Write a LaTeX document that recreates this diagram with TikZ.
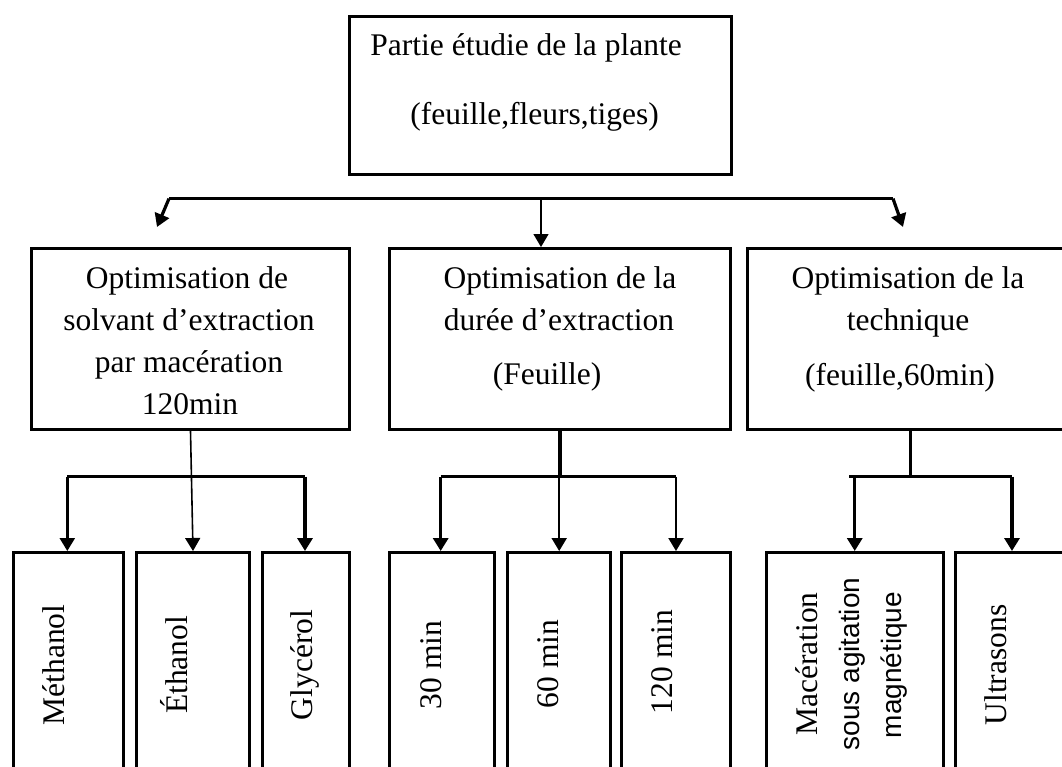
\documentclass[tikz,border=0pt]{standalone}
\usepackage{fontspec}
\setmainfont{Liberation Serif}
\newfontfamily\sansf{Liberation Sans}
\usetikzlibrary{arrows.meta}
\begin{document}
\begin{tikzpicture}[x=0.5pt,y=-0.5pt,
  box/.style={draw,line width=1.5pt,inner sep=0pt,anchor=north west},
  txt/.style={inner sep=0pt,font=\fontsize{15.75pt}{18pt}\selectfont,anchor=base},
  rtxt/.style={txt,rotate=90},
  stxt/.style={inner sep=0pt,font=\sansf\fontsize{14pt}{16pt}\selectfont,anchor=base,rotate=90},
  arr/.style={-{Triangle[width=7.5pt,length=6.5pt]}},
  thk/.style={line width=1.6pt},
  med/.style={line width=1pt},
  thn/.style={line width=0.65pt}]
\useasboundingbox (0,0) rectangle (1062,767);
\clip (0,0) rectangle (1062,767);
\fill[white] (0,0) rectangle (1062,767);

% top box
\node[box,minimum width=191pt,minimum height=79pt] (top) at (348,15) {};
\node[txt,anchor=base west] (top1) at (370,55) {Partie étudie de la plante};
\node[txt,anchor=base west] (top2) at (410,124) {(feuille,fleurs,tiges)};

% level 2 boxes
\node[box,minimum width=159pt,minimum height=90.5pt] (b1) at (30,247) {};
\node[box,minimum width=170.5pt,minimum height=90.5pt] (b2) at (388,247) {};
\node[box,minimum width=163.25pt,minimum height=90.5pt] (b3) at (745.5,247) {};

\node[txt] (b1l1) at (187,288) {Optimisation de};
\node[txt] (b1l2) at (189,330) {solvant d’extraction};
\node[txt] (b1l3) at (189,372) {par macération};
\node[txt] (b1l4) at (190,414) {120min};

\node[txt] (b2l1) at (560,288) {Optimisation de la};
\node[txt] (b2l2) at (559,330) {durée d’extraction};
\node[txt] (b2l3) at (547,384) {(Feuille)};

\node[txt] (b3l1) at (908,288) {Optimisation de la};
\node[txt] (b3l2) at (908,330) {technique};
\node[txt] (b3l3) at (900,385) {(feuille,60min)};

% bottom boxes
\node[box,minimum width=55pt,minimum height=124.5pt] (m1) at (12,551) {};
\node[box,minimum width=56.5pt,minimum height=124.5pt] (m2) at (135,551) {};
\node[box,minimum width=43.5pt,minimum height=124.5pt] (m3) at (261,551) {};
\node[box,minimum width=52.5pt,minimum height=124.5pt] (t1) at (388,551) {};
\node[box,minimum width=51.7pt,minimum height=124.5pt] (t2) at (506,551) {};
\node[box,minimum width=54.5pt,minimum height=124.5pt] (t3) at (620,551) {};
\node[box,minimum width=88.25pt,minimum height=124.5pt] (k1) at (765,551) {};
\node[box,minimum width=58pt,minimum height=124.5pt] (k2) at (954,551) {};

\node[rtxt] (m1t) at (64,665) {Méthanol};
\node[rtxt] (m2t) at (187.5,665) {Éthanol};
\node[rtxt] (m3t) at (312.5,665) {Glycérol};
\node[rtxt] (t1t) at (441,665) {30 min};
\node[rtxt] (t2t) at (558.7,664) {60 min};
\node[rtxt] (t3t) at (672,662) {120 min};
\node[rtxt] (k1t) at (817,664) {Macération};
\node[stxt] (k1s) at (859,664) {sous agitation};
\node[stxt] (k1m) at (901.6,665) {magnétique};
\node[rtxt] (k2t) at (1006,665) {Ultrasons};

% top connectors
\coordinate (barL) at (169,198.6);
\coordinate (barR) at (893,198.6);
\coordinate (barM) at (541,198.6);
\coordinate (tipL) at (157,227);
\coordinate (tipR) at (903,227);
\draw[thk] (barL) -- (barR);
\draw[thk,arr] (barL) -- (tipL);
\draw[thk,arr] (barR) -- (tipR);
\draw[thn,arr] (barM) -- (barM |- b2.north);

% group 1
\coordinate (g1a) at (67.3,476.7);
\coordinate (g1b) at (305,476.7);
\draw[thk] (g1a) -- (g1b);
\draw[line width=1.2pt,arr] (g1a) -- (g1a |- m1.north);
\draw[line width=1.75pt,arr] (g1b) -- (g1b |- m3.north);
\draw[line width=0.8pt,arr] (b1.south) -- (m2.north);

% group 2
\coordinate (g2a) at (440.7,476.7);
\coordinate (g2b) at (676,476.7);
\coordinate (g2m) at (b2.south |- g2a);
\draw[thk] (g2a) -- (g2b);
\draw[thk] (b2.south) -- (g2m);
\draw[thk,arr] (g2a) -- (g2a |- t1.north);
\draw[med,arr] (t2.north |- g2a) -- (t2.north);
\draw[med,arr] (g2b) -- (g2b |- t3.north);

% group 3
\coordinate (g3a) at (849,476.7);
\coordinate (g3b) at (1012,476.7);
\coordinate (g3m) at (b3.south |- g3a);
\draw[thk] (g3a) -- (g3b);
\draw[thk] (b3.south) -- (g3m);
\draw[thk,arr] (k1.north |- g3a) -- (k1.north);
\draw[thk,arr] (g3b) -- (g3b |- k2.north);
\end{tikzpicture}
\end{document}
